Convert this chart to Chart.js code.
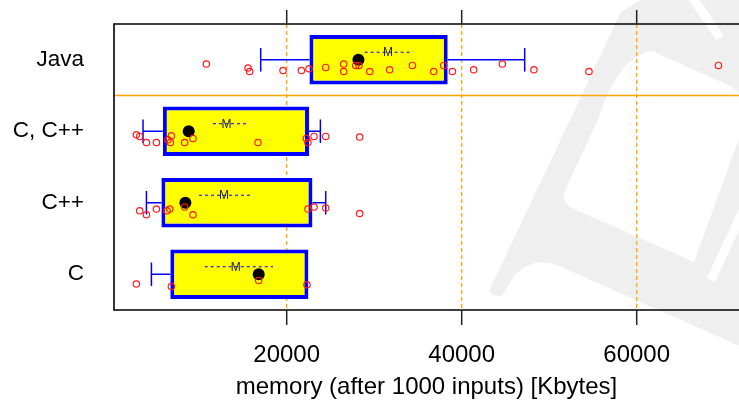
<!DOCTYPE html>
<html>
<head>
<meta charset="utf-8">
<script src="https://cdn.jsdelivr.net/npm/chart.js@4/dist/chart.umd.min.js"></script>
<style>
  html, body { margin: 0; padding: 0; background: #ffffff; }
  #wrap { width: 739px; height: 406px; }
</style>
</head>
<body>
<div id="wrap"><canvas id="chart" width="739" height="406"></canvas></div>
<script>
// Memory use after 1000 inputs, per language group [Kbytes]
const categories = ['Java', 'C, C++', 'C++', 'C'];
const xTicks = [20000, 40000, 60000];

// box = 25%..75% quantiles, whiskers = 10%..90% quantiles
const boxLow      = [22600, 5850, 5680, 6700];
const boxHigh     = [38400, 22550, 22940, 22480];
const whiskerLow  = [17030, 3580, 3970, 4540];
const whiskerHigh = [47200, 23850, 24460, 22400];
const medians     = [28200, 8800, 8420, 16800];
// mean and mean +/- one standard error
const means       = [31580, 13110, 12830, 14170];
const meanErrLow  = [28910, 11580, 9980, 10630];
const meanErrHigh = [34430, 15580, 15850, 18430];

// individual programs (value, vertical jitter in rows)
const javaMem = [10820, 15580, 15770, 19580, 21680, 22550, 24460, 26510, 26510, 27890, 28260,
                 29490, 31770, 34370, 36800, 37940, 38940, 41370, 44650, 48260, 54550, 69340];
const javaJitter = [0.06, 0.116, 0.164, 0.15, 0.15, 0.126, 0.108, 0.06, 0.164, 0.08, 0.08,
                    0.164, 0.14, 0.08, 0.164, 0.08, 0.164, 0.14, 0.06, 0.14, 0.164, 0.08];
const cBothMem = [2820, 3200, 3970, 5110, 6430, 6710, 6820, 8340, 9290, 16720, 22250, 22430,
                  23120, 24460, 28340];
const cBothJitter = [0.049, 0.073, 0.157, 0.157, 0.119, 0.157, 0.063, 0.157, 0.101, 0.157,
                     0.101, 0.157, 0.073, 0.073, 0.081];
const cppMem = [3200, 3970, 5110, 6320, 6630, 8340, 9290, 22430, 23120, 24460, 28340];
const cppJitter = [0.112, 0.168, 0.088, 0.112, 0.088, 0.06, 0.168, 0.088, 0.06, 0.074, 0.15];
const cMem = [2820, 6820, 16800, 22320];
const cJitter = [0.137, 0.171, 0.087, 0.147];

const groups = [
  { mem: javaMem, jitter: javaJitter },
  { mem: cBothMem, jitter: cBothJitter },
  { mem: cppMem, jitter: cppJitter },
  { mem: cMem, jitter: cJitter }
];

const FONT = "'Liberation Sans', Arial, Helvetica, sans-serif";
Chart.defaults.font.family = FONT;

const pointData = [];
groups.forEach((g, row) => {
  g.mem.forEach((v, k) => pointData.push({ x: v, y: row + g.jitter[k] }));
});

function strokeLine(ctx, x1, y1, x2, y2) {
  ctx.beginPath();
  ctx.moveTo(x1, y1);
  ctx.lineTo(x2, y2);
  ctx.stroke();
}

// faint logo in the background
function drawWatermark(ctx) {
  ctx.save();
  ctx.fillStyle = '#efefef';
  ctx.beginPath();
  ctx.moveTo(502, 296);
  ctx.quadraticCurveTo(489, 296, 490, 289);
  ctx.lineTo(621, 12);
  ctx.lineTo(647, -4);
  ctx.lineTo(760, -4);
  ctx.lineTo(760, 355);
  ctx.lineTo(557, 265);
  ctx.quadraticCurveTo(532, 256, 514, 276);
  ctx.closePath();
  // inner opening
  ctx.moveTo(572, 208);
  ctx.quadraticCurveTo(561, 202, 565, 190);
  ctx.lineTo(598, 120);
  ctx.quadraticCurveTo(618, 56, 652, 51);
  ctx.lineTo(730, 86);
  ctx.quadraticCurveTo(752, 98, 742, 130);
  ctx.lineTo(694, 262);
  ctx.closePath();
  ctx.fill('evenodd');
  ctx.strokeStyle = '#ffffff';
  ctx.lineWidth = 9;
  strokeLine(ctx, 690, -6, 720, 38);
  strokeLine(ctx, 711, 280, 746, 204);
  ctx.restore();
}

const decorations = {
  id: 'decorations',
  beforeDraw(chart) {
    const { ctx, width, height } = chart;
    ctx.save();
    ctx.fillStyle = '#ffffff';
    ctx.fillRect(0, 0, width, height);
    ctx.restore();
    drawWatermark(ctx);
  },
  beforeDatasetsDraw(chart) {
    const { ctx, chartArea: a, scales: { x, y } } = chart;
    ctx.save();
    // dotted reference lines at the ticks
    ctx.strokeStyle = '#ffa500';
    ctx.lineWidth = 1.3;
    ctx.setLineDash([4, 3]);
    xTicks.forEach(v => {
      const px = x.getPixelForValue(v);
      strokeLine(ctx, px, a.top, px, a.bottom);
    });
    ctx.setLineDash([]);
    // separator between Java and the C family
    ctx.lineWidth = 1.5;
    const sep = y.getPixelForValue(0.5);
    strokeLine(ctx, a.left, sep, a.right, sep);

    // whiskers
    ctx.strokeStyle = '#0000ff';
    ctx.lineWidth = 1.5;
    categories.forEach((c, i) => {
      const cy = y.getPixelForValue(i);
      const half = Math.abs(y.getPixelForValue(i + 0.165) - cy);
      const lo = x.getPixelForValue(whiskerLow[i]);
      const hi = x.getPixelForValue(whiskerHigh[i]);
      const b1 = x.getPixelForValue(boxLow[i]);
      const b2 = x.getPixelForValue(boxHigh[i]);
      strokeLine(ctx, lo, cy, b1, cy);
      strokeLine(ctx, lo, cy - half, lo, cy + half);
      if (hi > b2) {
        strokeLine(ctx, b2, cy, hi, cy);
        strokeLine(ctx, hi, cy - half, hi, cy + half);
      }
    });

    // frame and tick marks
    ctx.strokeStyle = '#000000';
    ctx.lineWidth = 1.6;
    strokeLine(ctx, a.left, a.top, a.right + 2, a.top);
    strokeLine(ctx, a.left, a.bottom, a.right + 2, a.bottom);
    strokeLine(ctx, a.left, a.top - 0.8, a.left, a.bottom + 0.8);
    ctx.strokeStyle = '#222222';
    ctx.lineWidth = 1.5;
    xTicks.forEach(v => {
      const px = x.getPixelForValue(v);
      strokeLine(ctx, px, a.top - 14, px, a.top);
      strokeLine(ctx, px, a.bottom, px, a.bottom + 15);
    });
    ctx.restore();
  },
  afterDatasetsDraw(chart) {
    const { ctx, scales: { x, y } } = chart;
    ctx.save();
    ctx.font = '12px ' + FONT;
    ctx.textAlign = 'center';
    ctx.textBaseline = 'middle';
    categories.forEach((c, i) => {
      const my = y.getPixelForValue(i - 0.105);
      ctx.strokeStyle = '#0000ff';
      ctx.lineWidth = 1;
      ctx.setLineDash([3, 3]);
      strokeLine(ctx, x.getPixelForValue(meanErrLow[i]), my, x.getPixelForValue(meanErrHigh[i]), my);
      ctx.setLineDash([]);
      ctx.fillStyle = '#222222';
      ctx.fillText('M', x.getPixelForValue(means[i]), my + 0.5);
    });
    ctx.restore();
  }
};

function noEdgePadding(s) {
  s.paddingTop = 0;
  s.paddingBottom = 0;
  s.paddingLeft = 0;
  s.paddingRight = 0;
}

new Chart(document.getElementById('chart'), {
  type: 'scatter',
  data: {
    datasets: [
      {
        type: 'bar',
        indexAxis: 'y',
        data: categories.map((c, i) => ({ x: [boxLow[i], boxHigh[i]], y: i })),
        backgroundColor: '#ffff00',
        borderColor: '#0000ff',
        borderWidth: 4,
        borderSkipped: false,
        borderRadius: 0,
        barPercentage: 0.69,
        categoryPercentage: 1,
        order: 3
      },
      {
        type: 'scatter',
        data: medians.map((m, i) => ({ x: m, y: i })),
        pointRadius: 6,
        pointBackgroundColor: '#000000',
        pointBorderWidth: 0,
        order: 2
      },
      {
        type: 'scatter',
        data: pointData,
        pointStyle: 'circle',
        pointRadius: 3.2,
        pointBorderWidth: 1.2,
        pointBorderColor: '#ff1a1a',
        pointBackgroundColor: 'rgba(0,0,0,0)',
        order: 1
      }
    ]
  },
  options: {
    responsive: false,
    animation: false,
    events: [],
    layout: { autoPadding: false, padding: { top: 24, right: 0, bottom: 0, left: 0 } },
    plugins: { legend: { display: false }, tooltip: { enabled: false } },
    scales: {
      x: {
        type: 'linear',
        position: 'bottom',
        min: 263,
        max: 71692,
        offset: false,
        grid: { display: false, drawTicks: false },
        border: { display: false },
        afterBuildTicks: s => { s.ticks = xTicks.map(v => ({ value: v })); },
        afterFit: s => { s.height = 96; noEdgePadding(s); },
        ticks: {
          autoSkip: false,
          maxRotation: 0,
          padding: 31,
          color: '#000000',
          font: { size: 24 },
          callback: v => String(v)
        },
        title: {
          display: true,
          text: 'memory (after 1000 inputs) [Kbytes]',
          color: '#000000',
          font: { size: 24 },
          padding: { top: 0, bottom: 4 }
        }
      },
      y: {
        type: 'linear',
        min: -0.5,
        max: 3.5,
        reverse: true,
        offset: false,
        grid: { display: false, drawTicks: false },
        border: { display: false },
        afterBuildTicks: s => { s.ticks = categories.map((c, i) => ({ value: i })); },
        afterFit: s => { s.width = 114; noEdgePadding(s); },
        ticks: {
          autoSkip: false,
          padding: 30,
          color: '#000000',
          font: { size: 22.5 },
          callback: v => categories[v]
        }
      }
    }
  },
  plugins: [decorations]
});
</script>
</body>
</html>
